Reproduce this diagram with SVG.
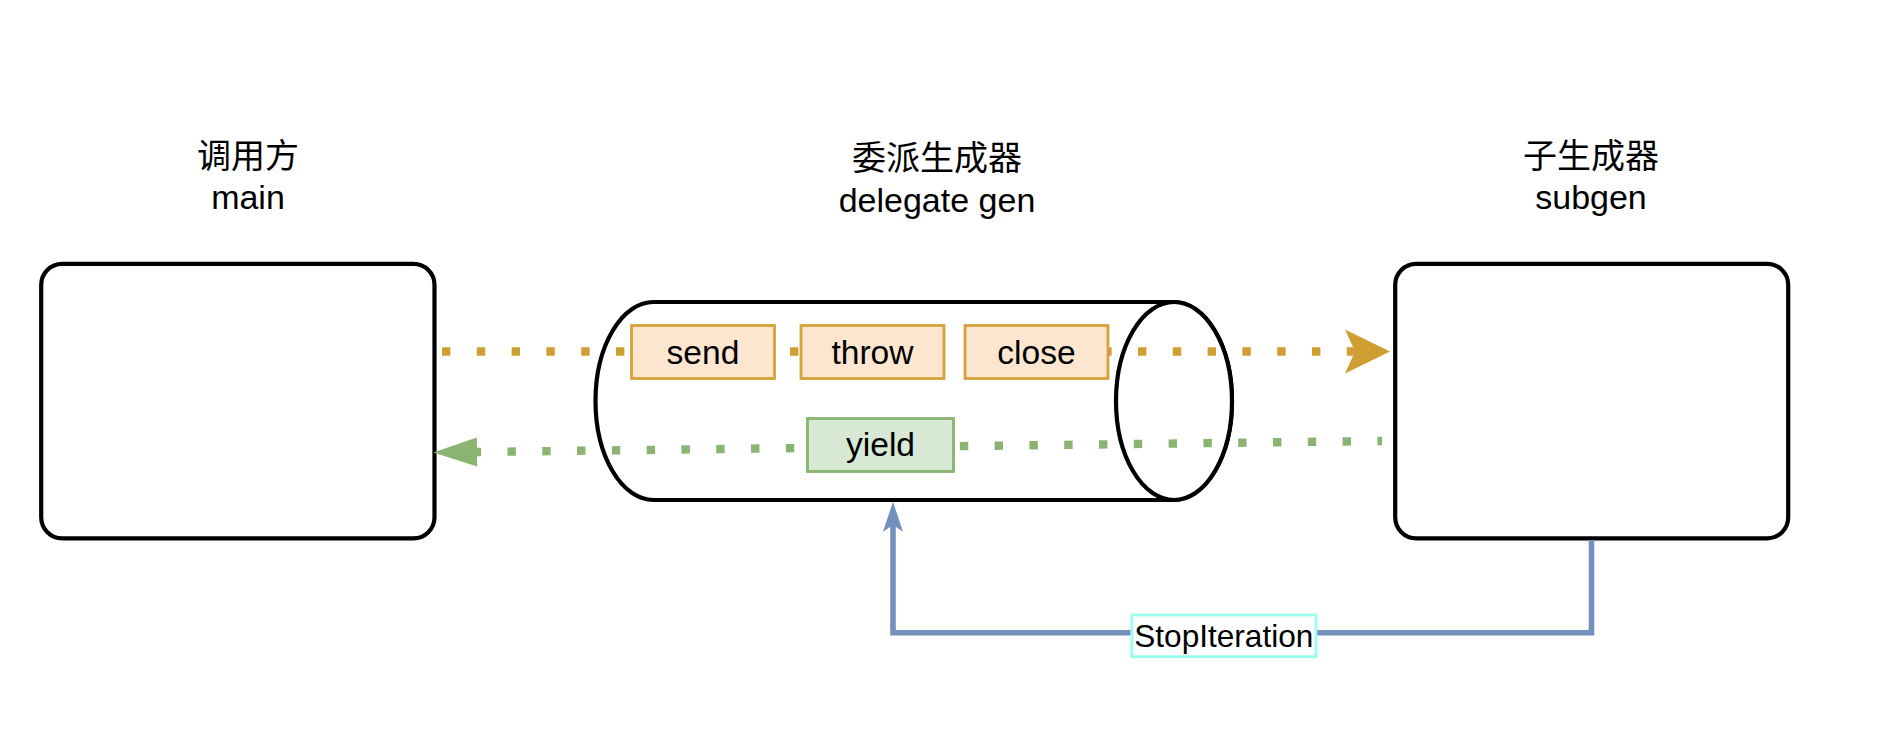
<svg xmlns="http://www.w3.org/2000/svg" width="1884" height="744" viewBox="0 0 1884 744">
<style>
text{font-family:"Liberation Sans",Arial,"Noto Sans CJK SC",sans-serif;fill:#000;text-anchor:middle}
.t{font-size:34px}
.lbl{font-size:33.6px}
.box{fill:#fff;stroke:#000;stroke-width:4.2}
.op{fill:#fde6cf;stroke:#d6a13a;stroke-width:2.8}
.yd{fill:#d7e8d5;stroke:#88b46e;stroke-width:2.8}
.dot{fill:none;stroke-width:8.4;stroke-dasharray:8.4 26.4}
</style>
<defs>
<marker id="mo" markerUnits="userSpaceOnUse" orient="auto" refX="0" refY="0" markerWidth="60" markerHeight="60" overflow="visible"><path d="M-10,-22 L35,0 L-10,22 L0,0 Z" fill="#d09f33"/></marker>
<marker id="mg" markerUnits="userSpaceOnUse" orient="auto" refX="0" refY="0" markerWidth="60" markerHeight="60" overflow="visible"><path d="M-1,-14.5 L42.7,0 L-1,14.5 Z" fill="#8bb472"/></marker>
<marker id="mb" markerUnits="userSpaceOnUse" orient="auto" refX="0" refY="0" markerWidth="60" markerHeight="60" overflow="visible"><path d="M-6.7,-10 L23.3,0 L-6.7,10 L0,0 Z" fill="#7490bf"/></marker>
</defs>
<rect width="1884" height="744" fill="#fff"/>
<g id="main">
<rect class="box" x="41.2" y="263.8" width="393.3" height="274.5" rx="21"/>
<text class="t" x="248" y="167.5">调用方</text>
<text class="t" x="248" y="209.3">main</text>
</g>
<g id="subgen">
<rect class="box" x="1395.2" y="263.8" width="393" height="274.5" rx="21"/>
<text class="t" x="1591" y="167.5">子生成器</text>
<text class="t" x="1591" y="209.3">subgen</text>
</g>
<g id="delegate">
<path class="box" d="M653.5,302 L1174,302 A58,99 0 0 1 1174,500 L653.5,500 A58,99 0 0 1 653.5,302 Z"/>
<ellipse class="box" cx="1174" cy="401" rx="58" ry="99"/>
<text class="t" x="937" y="170">委派生成器</text>
<text class="t" x="937" y="211.7">delegate gen</text>
</g>
<g id="connectors">
<path class="dot" d="M442,351.5 H1355" stroke="#d09f33" marker-end="url(#mo)"/>
<path class="dot" d="M1382,441 L476,452" stroke="#8bb472" stroke-dashoffset="3.8" marker-end="url(#mg)"/>
<path d="M1591.5,540 V632.7 H893 V525" fill="none" stroke="#7490bf" stroke-width="5.6" marker-end="url(#mb)"/>
</g>
<g id="send">
<rect class="op" x="631.5" y="325.5" width="143" height="53"/>
<text class="lbl" x="703" y="363.5">send</text>
</g>
<g id="throw">
<rect class="op" x="801" y="325.5" width="143" height="53"/>
<text class="lbl" x="872.5" y="363.5">throw</text>
</g>
<g id="close">
<rect class="op" x="965" y="325.5" width="143" height="53"/>
<text class="lbl" x="1036.5" y="363.5">close</text>
</g>
<g id="yield">
<rect class="yd" x="807.5" y="418.5" width="146" height="53"/>
<text class="lbl" x="880.5" y="455.5">yield</text>
</g>
<g id="stopiteration">
<rect x="1131.7" y="615" width="184.3" height="41.7" fill="#fff" stroke="#99fff0" stroke-width="2.8"/>
<text x="1223.8" y="646.7" style="font-size:31.6px">StopIteration</text>
</g>
</svg>
